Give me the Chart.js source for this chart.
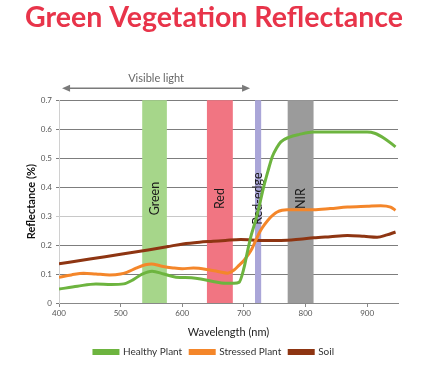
<!DOCTYPE html>
<html>
<head>
<meta charset="utf-8">
<script src="https://cdn.jsdelivr.net/npm/chart.js@4/dist/chart.umd.min.js"></script>
<style>
  html, body { margin: 0; padding: 0; background: #fff; }
  #wrap { width: 428px; height: 372px; }
</style>
</head>
<body>
<div id="wrap"><canvas id="myChart"></canvas></div>
<script>
// healthy plant
const healthyNm = [400, 430, 460, 485, 505, 520, 535, 551, 570, 590, 615, 630, 650, 670, 684, 692, 700, 706, 712, 719, 726, 732, 739, 746, 753, 760, 773, 790, 813, 860, 900, 912, 928, 946];
const healthyVals = [0.048, 0.058, 0.066, 0.064, 0.066, 0.08, 0.1, 0.11, 0.1, 0.089, 0.087, 0.083, 0.074, 0.068, 0.068, 0.071, 0.12, 0.18, 0.235, 0.285, 0.345, 0.40, 0.455, 0.505, 0.535, 0.556, 0.572, 0.582, 0.59, 0.59, 0.59, 0.586, 0.568, 0.539];

// stressed plant
const stressedNm = [400, 420, 440, 460, 482, 500, 510, 525, 540, 550, 565, 585, 600, 618, 645, 660, 673, 684, 692, 700, 707, 713, 720, 727, 734, 741, 748, 754, 762, 770, 790, 813, 840, 868, 900, 922, 938, 946];
const stressedVals = [0.089, 0.097, 0.103, 0.1, 0.097, 0.1, 0.106, 0.12, 0.132, 0.135, 0.128, 0.121, 0.118, 0.121, 0.114, 0.108, 0.103, 0.114, 0.13, 0.147, 0.167, 0.187, 0.22, 0.25, 0.272, 0.291, 0.305, 0.314, 0.32, 0.322, 0.322, 0.322, 0.326, 0.331, 0.334, 0.336, 0.331, 0.32];

// soil
const soilNm = [400, 450, 500, 547, 575, 601, 628, 650, 670, 695, 730, 760, 790, 813, 840, 868, 895, 916, 932, 946];
const soilVals = [0.135, 0.152, 0.168, 0.184, 0.194, 0.204, 0.21, 0.213, 0.216, 0.219, 0.216, 0.216, 0.22, 0.225, 0.229, 0.233, 0.23, 0.227, 0.235, 0.245];

// spectral bands (nm)
const bandNames = ['Green', 'Red', 'Red-edge', 'NIR'];
const bandStart = [535, 640, 718, 771];
const bandEnd = [575, 682, 728, 813];
const bandColors = ['#a6d68a', '#f17582', '#aaa6d8', '#9b9b9b'];

const visibleRange = [405, 710];

const FONT = 'Lato, "Open Sans", sans-serif';

function pts(xs, ys) {
  return xs.map((x, i) => ({ x: x, y: ys[i] }));
}

const bandsPlugin = {
  id: 'bands',
  beforeDatasetsDraw(chart) {
    const { ctx, chartArea, scales } = chart;
    const xs = scales.x;
    ctx.save();
    bandNames.forEach((name, i) => {
      const x0 = xs.getPixelForValue(bandStart[i]);
      const x1 = xs.getPixelForValue(bandEnd[i]);
      ctx.fillStyle = bandColors[i];
      ctx.fillRect(x0, chartArea.top, x1 - x0, chartArea.bottom - chartArea.top);
    });
    ctx.fillStyle = '#1a1a1a';
    ctx.font = '12.5px ' + FONT;
    ctx.textAlign = 'center';
    ctx.textBaseline = 'middle';
    bandNames.forEach((name, i) => {
      const cx = xs.getPixelForValue((bandStart[i] + bandEnd[i]) / 2);
      const cy = (chartArea.top + chartArea.bottom) / 2 - 3;
      ctx.save();
      ctx.translate(cx, cy);
      ctx.rotate(-Math.PI / 2);
      ctx.fillText(name, 0, 0);
      ctx.restore();
    });
    ctx.restore();
  },
  afterDraw(chart) {
    const { ctx, chartArea, scales } = chart;
    const xs = scales.x;
    const a = xs.getPixelForValue(visibleRange[0]);
    const b = xs.getPixelForValue(visibleRange[1]);
    const y = chartArea.top - 12;
    ctx.save();
    ctx.strokeStyle = '#7a7a7a';
    ctx.fillStyle = '#7a7a7a';
    ctx.lineWidth = 1.5;
    ctx.beginPath();
    ctx.moveTo(a + 5, y);
    ctx.lineTo(b - 5, y);
    ctx.stroke();
    ctx.beginPath();
    ctx.moveTo(a, y);
    ctx.lineTo(a + 8, y - 3.5);
    ctx.lineTo(a + 8, y + 3.5);
    ctx.closePath();
    ctx.fill();
    ctx.beginPath();
    ctx.moveTo(b, y);
    ctx.lineTo(b - 8, y - 3.5);
    ctx.lineTo(b - 8, y + 3.5);
    ctx.closePath();
    ctx.fill();
    ctx.fillStyle = '#666';
    ctx.font = '11px ' + FONT;
    ctx.textAlign = 'center';
    ctx.textBaseline = 'middle';
    ctx.fillText('Visible light', (a + b) / 2, y - 10);
    ctx.restore();
  }
};

const ctx = document.getElementById('myChart').getContext('2d');
new Chart(ctx, {
  type: 'line',
  data: {
    datasets: [
      { label: 'Healthy Plant', data: pts(healthyNm, healthyVals), borderColor: '#6db43f', backgroundColor: '#6db43f' },
      { label: 'Stressed Plant', data: pts(stressedNm, stressedVals), borderColor: '#f4862a', backgroundColor: '#f4862a' },
      { label: 'Soil', data: pts(soilNm, soilVals), borderColor: '#8e3512', backgroundColor: '#8e3512' }
    ]
  },
  plugins: [bandsPlugin],
  options: {
    responsive: true,
    maintainAspectRatio: false,
    animation: false,
    layout: { padding: { left: 0, right: 0, top: 0, bottom: 5 } },
    elements: {
      point: { radius: 0 },
      line: { borderWidth: 3, tension: 0.4, cubicInterpolationMode: 'monotone' }
    },
    scales: {
      x: {
        type: 'linear',
        min: 400,
        max: 950,
        ticks: { stepSize: 100, includeBounds: false, color: '#555', font: { family: FONT, size: 8 }, padding: 2 },
        grid: { drawOnChartArea: false, drawTicks: true, tickLength: 4, color: '#888' },
        border: { color: '#888', width: 1 },
        title: { display: true, text: 'Wavelength (nm)', color: '#222', font: { family: FONT, size: 11 }, padding: { top: 2, bottom: 0 } },
        afterFit: (s) => { s.height = 36; }
      },
      y: {
        min: 0,
        max: 0.7,
        ticks: { stepSize: 0.1, color: '#555', font: { family: FONT, size: 8 }, padding: 4 },
        grid: {
          tickLength: 3,
          color: (c) => (c.tick && (c.tick.value === 0.3 || c.tick.value === 0.4) ? '#c8c8c8' : '#7d7d7d'),
          lineWidth: 1
        },
        border: { color: '#d0d0d0' },
        title: { display: true, text: 'Reflectance (%)', color: '#111', font: { family: FONT, size: 11, weight: 'bold' }, padding: { top: 25, bottom: 4 } },
        afterFit: (s) => { s.width = 59; }
      },
      pad: {
        position: 'right',
        display: true,
        ticks: { display: false },
        grid: { display: false },
        border: { display: false },
        afterFit: (s) => { s.width = 30; }
      }
    },
    plugins: {
      title: {
        display: true,
        text: 'Green Vegetation Reflectance',
        color: '#e8344a',
        font: { family: FONT, size: 28.5, weight: 'bold' },
        padding: { top: 1, bottom: 65 }
      },
      legend: {
        position: 'bottom',
        labels: { boxWidth: 24, boxHeight: 3, color: '#333', font: { family: FONT, size: 10 }, padding: 8 }
      },
      tooltip: { enabled: false }
    }
  }
});
</script>
</body>
</html>
